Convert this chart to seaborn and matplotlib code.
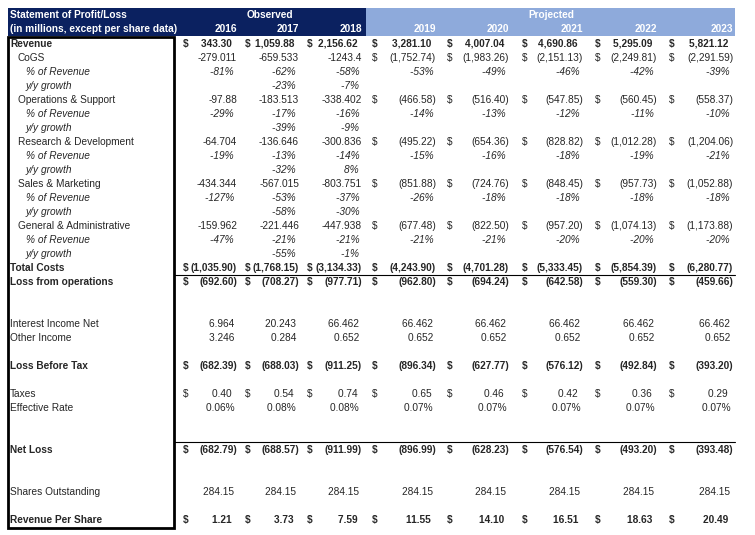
import matplotlib.pyplot as plt
import seaborn as sns

# Data
years = [2016, 2017, 2018, 2019, 2020, 2021, 2022, 2023]
revenue = [343.30, 1059.88, 2156.62, 3281.10, 4007.04, 4690.86, 5295.09, 5821.12]
cost_names = ['CoGS', 'Operations & Support', 'Research & Development',
              'Sales & Marketing', 'General & Administrative']
costs = [
    [-279.011, -659.533, -1243.4, -1752.74, -1983.26, -2151.13, -2249.81, -2291.59],
    [-97.88, -183.513, -338.402, -466.58, -516.40, -547.85, -560.45, -558.37],
    [-64.704, -136.646, -300.836, -495.22, -654.36, -828.82, -1012.28, -1204.06],
    [-434.344, -567.015, -803.751, -851.88, -724.76, -848.45, -957.73, -1052.88],
    [-159.962, -221.446, -447.938, -677.48, -822.50, -957.20, -1074.13, -1173.88],
]
pct_rev = [
    [-81, -62, -58, -53, -49, -46, -42, -39],
    [-29, -17, -16, -14, -13, -12, -11, -10],
    [-19, -13, -14, -15, -16, -18, -19, -21],
    [-127, -53, -37, -26, -18, -18, -18, -18],
    [-47, -21, -21, -21, -21, -20, -20, -20],
]
growth = [[-23, -7], [-39, -9], [-32, 8], [-58, -30], [-55, -1]]
total_costs = [-1035.90, -1768.15, -3134.33, -4243.90, -4701.28, -5333.45, -5854.39, -6280.77]
loss_ops = [-692.60, -708.27, -977.71, -962.80, -694.24, -642.58, -559.30, -459.66]
interest = [6.964, 20.243, 66.462, 66.462, 66.462, 66.462, 66.462, 66.462]
other_income = [3.246, 0.284, 0.652, 0.652, 0.652, 0.652, 0.652, 0.652]
loss_before_tax = [-682.39, -688.03, -911.25, -896.34, -627.77, -576.12, -492.84, -393.20]
taxes = [0.40, 0.54, 0.74, 0.65, 0.46, 0.42, 0.36, 0.29]
eff_rate = [0.06, 0.08, 0.08, 0.07, 0.07, 0.07, 0.07, 0.07]
net_loss = [-682.79, -688.57, -911.99, -896.99, -628.23, -576.54, -493.20, -393.48]
shares = [284.15] * 8
rev_per_share = [1.21, 3.73, 7.59, 11.55, 14.10, 16.51, 18.63, 20.49]

sns.set_theme(style='white')
plt.rcParams['font.family'] = ['Liberation Sans', 'DejaVu Sans']

col_right = [237, 299, 362, 436, 509, 583, 657, 733]
dollar_x = [183, 245, 307, 372, 447, 522, 595, 669]
navy = '#0b2160'
light = '#8eaadb'
fs = 7.3

fig = plt.figure(figsize=(7.55, 5.35), dpi=100)
ax = fig.add_axes([0, 0, 1, 1])
ax.set_xlim(0, 755)
ax.set_ylim(535, 0)
ax.axis('off')

# header
ax.add_patch(plt.Rectangle((8, 8), 358, 28, color=navy, lw=0))
ax.add_patch(plt.Rectangle((366, 8), 369, 28, color=light, lw=0))
ax.text(10, 15, 'Statement of Profit/Loss', color='white', fontsize=fs, weight='bold', va='center')
ax.text(10, 29, '(in millions, except per share data)', color='white', fontsize=fs, weight='bold', va='center')
ax.text(270, 15, 'Observed', color='white', fontsize=fs, weight='bold', va='center', ha='center')
ax.text(551, 15, 'Projected', color='white', fontsize=fs, weight='bold', va='center', ha='center')
for i, yr in enumerate(years):
    ax.text(col_right[i], 29, str(yr), color='white', fontsize=fs, weight='bold', va='center', ha='right')

# label box
ax.add_patch(plt.Rectangle((8, 37), 166, 491, fill=False, ec='black', lw=2))
ax.plot([174, 735], [275, 275], color='black', lw=0.8)
ax.plot([174, 735], [442, 442], color='black', lw=0.8)


def acct(v):
    s = f'{abs(v):,.2f}'
    return f'({s})' if v < 0 else s + '\u2009 '


def put_row(y, label, cells, indent=0, bold=False, italic=False, dollars=None):
    ax.text(10 + indent, y, label, fontsize=fs, va='center',
            weight='bold' if bold else 'normal', style='italic' if italic else 'normal')
    for i, t in enumerate(cells):
        if t is None:
            continue
        ax.text(col_right[i], y, t, fontsize=fs, va='center', ha='right',
                weight='bold' if bold else 'normal', style='italic' if italic else 'normal')
        if dollars and dollars[i]:
            ax.text(dollar_x[i], y, '$', fontsize=fs, va='center', ha='left',
                    weight='bold' if bold else 'normal')


all_d = [True] * 8
proj_d = [False] * 3 + [True] * 5
y = 44
put_row(y, 'Revenue', [acct(v) for v in revenue], bold=True, dollars=all_d)
for k in range(5):
    y += 14
    cells = [f'{v:g}' for v in costs[k][:3]] + [acct(v) for v in costs[k][3:]]
    put_row(y, cost_names[k], cells, indent=8, dollars=proj_d)
    y += 14
    put_row(y, '% of Revenue', [f'{v}% ' for v in pct_rev[k]], indent=16, italic=True)
    y += 14
    put_row(y, 'y/y growth', [None] + [f'{v}% ' for v in growth[k]] + [None] * 5, indent=16, italic=True)
y += 14
put_row(y, 'Total Costs', [acct(v) for v in total_costs], bold=True, dollars=all_d)
y += 14
put_row(y, 'Loss from operations', [acct(v) for v in loss_ops], bold=True, dollars=all_d)

put_row(324, 'Interest Income Net', [f'{v:.3f} ' for v in interest])
put_row(338, 'Other Income', [f'{v:.3f} ' for v in other_income])
put_row(366, 'Loss Before Tax', [acct(v) for v in loss_before_tax], bold=True, dollars=all_d)
put_row(394, 'Taxes', [acct(v) for v in taxes], dollars=all_d)
put_row(408, 'Effective Rate', [f'{v:.2f}% ' for v in eff_rate])
put_row(450, 'Net Loss', [acct(v) for v in net_loss], bold=True, dollars=all_d)
put_row(492, 'Shares Outstanding', [f'{v:.2f} ' for v in shares])
put_row(520, 'Revenue Per Share', [acct(v) for v in rev_per_share], bold=True, dollars=all_d)

fig.savefig('out.png', dpi=100, facecolor='white')
